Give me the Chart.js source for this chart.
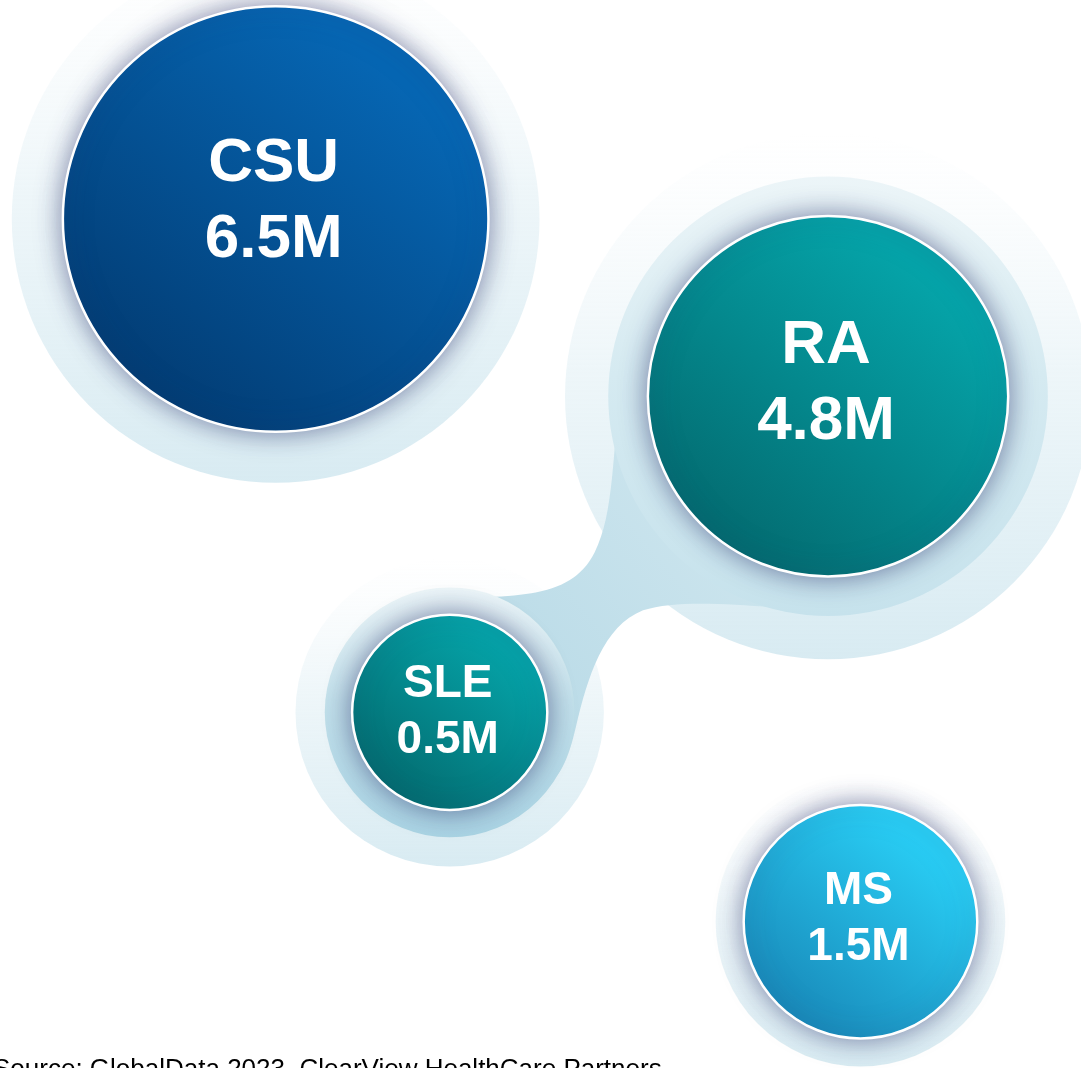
<!DOCTYPE html>
<html>
<head>
<meta charset="utf-8">
<script src="https://cdn.jsdelivr.net/npm/chart.js@4.4.1/dist/chart.umd.min.js"></script>
<style>
  html, body { margin: 0; padding: 0; background: #fff; overflow: hidden; }
  #wrap { position: relative; width: 1081px; height: 1068px; }
</style>
</head>
<body>
<div id="wrap"><canvas id="bubbles" width="1081" height="1068"></canvas></div>
<script>
// patients per indication, millions
const diseases = ["CSU", "RA", "SLE", "MS"];
const patients = [6.5, 4.8, 0.5, 1.5];
const valueLabels = ["6.5M", "4.8M", "0.5M", "1.5M"];
// where each bubble sits on a 0-100 grid
const posX = [25.5, 76.6, 41.6, 79.6];
const posY = [79.5, 62.9, 33.3, 13.7];
const sourceNote = "Source: GlobalData 2023, ClearView HealthCare Partners";

// looks only - colours, halo sizes, font size
const looks = [
    { light: "#0666B3", dark: "#023B72", halo: 1.24, band: 0, font: 62 },
    { light: "#05A4A9", dark: "#03696E", halo: 1.46, band: 1.22, font: 62 },
    { light: "#05A3A8", dark: "#036A6E", halo: 1.58, band: 1.28, font: 46 },
    { light: "#29CEF5", dark: "#1888B8", halo: 1.24, band: 0, font: 46 }
];

// bubble radius (px) grows with patient count
function sizeFor(v) {
    return 88 + 19.2 * v;
}

const points = patients.map((v, i) => ({ x: posX[i], y: posY[i], r: sizeFor(v) }));

function vGrad(ctx, x, y, R, top, mid, bottom) {
    const g = ctx.createLinearGradient(x, y - R, x, y + R);
    g.addColorStop(0, top);
    g.addColorStop(0.45, mid);
    g.addColorStop(1, bottom);
    return g;
}

function disc(ctx, x, y, R, fill) {
    ctx.beginPath();
    ctx.arc(x, y, R, 0, Math.PI * 2);
    ctx.fillStyle = fill;
    ctx.fill();
}

// halos + the soft link between SLE and RA
const backdrop = {
    id: "backdrop",
    beforeDatasetsDraw(chart) {
        const ctx = chart.ctx;
        const els = chart.getDatasetMeta(0).data;
        ctx.save();
        els.forEach((el, i) => {
            const R = el.options.radius * looks[i].halo;
            disc(ctx, el.x, el.y, R, vGrad(ctx, el.x, el.y, R,
                "rgba(240,247,250,0)", "rgba(232,243,247,0.75)", "rgba(216,235,242,1)"));
        });
        // connector blob
        const ra = els[1], sle = els[2];
        const g = ctx.createLinearGradient(sle.x, sle.y, ra.x, ra.y);
        g.addColorStop(0, "#B6D9E6");
        g.addColorStop(1, "#D6EAF1");
        ctx.beginPath();
        ctx.moveTo(sle.x - 30, sle.y - 114);
        ctx.bezierCurveTo(sle.x + 60, sle.y - 116, sle.x + 120, sle.y - 110, sle.x + 145, sle.y - 160);
        ctx.bezierCurveTo(sle.x + 165, sle.y - 200, sle.x + 162, sle.y - 260, sle.x + 172, sle.y - 330);
        ctx.lineTo(ra.x, ra.y);
        ctx.lineTo(ra.x + 30, ra.y + 217);
        ctx.bezierCurveTo(ra.x - 60, ra.y + 212, ra.x - 140, ra.y + 200, ra.x - 185, ra.y + 214);
        ctx.bezierCurveTo(ra.x - 225, ra.y + 230, ra.x - 240, ra.y + 280, ra.x - 252, ra.y + 330);
        ctx.bezierCurveTo(ra.x - 260, ra.y + 365, ra.x - 268, ra.y + 380, ra.x - 283, ra.y + 391);
        ctx.lineTo(sle.x, sle.y);
        ctx.closePath();
        ctx.fillStyle = g;
        ctx.fill();
        els.forEach((el, i) => {
            if (!looks[i].band) return;
            const R = el.options.radius * looks[i].band;
            disc(ctx, el.x, el.y, R, vGrad(ctx, el.x, el.y, R,
                "#ECF5F8", i === 2 ? "#C2E0EA" : "#D5EAF1", i === 2 ? "#A9D3E3" : "#C6E2EC"));
        });
        ctx.restore();
    },
    beforeDatasetDraw(chart) {
        const ctx = chart.ctx;
        ctx.save();
        ctx.shadowColor = "rgba(45,55,110,0.6)";
        ctx.shadowBlur = 26;
    },
    afterDatasetDraw(chart) {
        chart.ctx.restore();
    },
    afterDatasetsDraw(chart) {
        const ctx = chart.ctx;
        const els = chart.getDatasetMeta(0).data;
        ctx.save();
        ctx.fillStyle = "#FFFFFF";
        ctx.textAlign = "center";
        ctx.textBaseline = "middle";
        els.forEach((el, i) => {
            const f = looks[i].font;
            const gap = f * 1.22;
            const mid = el.y - (el.options.radius - 100) * 0.15;
            ctx.font = "bold " + f + "px 'Liberation Sans', Arial, sans-serif";
            ctx.fillText(diseases[i], el.x - 2, mid - gap / 2);
            ctx.fillText(valueLabels[i], el.x - 2, mid + gap / 2);
        });
        ctx.fillStyle = "#000000";
        ctx.textAlign = "left";
        ctx.textBaseline = "alphabetic";
        ctx.font = "26px 'Liberation Sans', Arial, sans-serif";
        ctx.fillText(sourceNote, -7, 1077);
        ctx.restore();
    }
};

const chart = new Chart(document.getElementById("bubbles"), {
    type: "bubble",
    data: {
        labels: diseases,
        datasets: [{
            data: points,
            clip: false,
            borderColor: "#FFFFFF",
            borderWidth: 2.5,
            backgroundColor: (c) => {
                const chart = c.chart;
                const p = c.raw;
                const look = looks[c.dataIndex] || looks[0];
                if (!p || !chart.scales || !chart.scales.x || !chart.scales.y) return look.light;
                const x = chart.scales.x.getPixelForValue(p.x);
                const y = chart.scales.y.getPixelForValue(p.y);
                if (!isFinite(x) || !isFinite(y)) return look.light;
                const r = p.r * 0.75;
                const g = chart.ctx.createLinearGradient(x - r, y + r, x + r * 0.6, y - r);
                g.addColorStop(0, look.dark);
                g.addColorStop(1, look.light);
                return g;
            },
            hoverRadius: 0
        }]
    },
    options: {
        responsive: false,
        devicePixelRatio: 1,
        animation: false,
        events: [],
        layout: { padding: 0 },
        scales: {
            x: { type: "linear", min: 0, max: 100, display: false },
            y: { type: "linear", min: 0, max: 100, display: false }
        },
        plugins: {
            legend: { display: false },
            tooltip: { enabled: false }
        }
    },
    plugins: [backdrop]
});

// let the grid span the whole canvas, bubbles may run off the edge
chart.getDatasetMeta(0).controller.getMaxOverflow = () => 0;
chart.update();
</script>
</body>
</html>
